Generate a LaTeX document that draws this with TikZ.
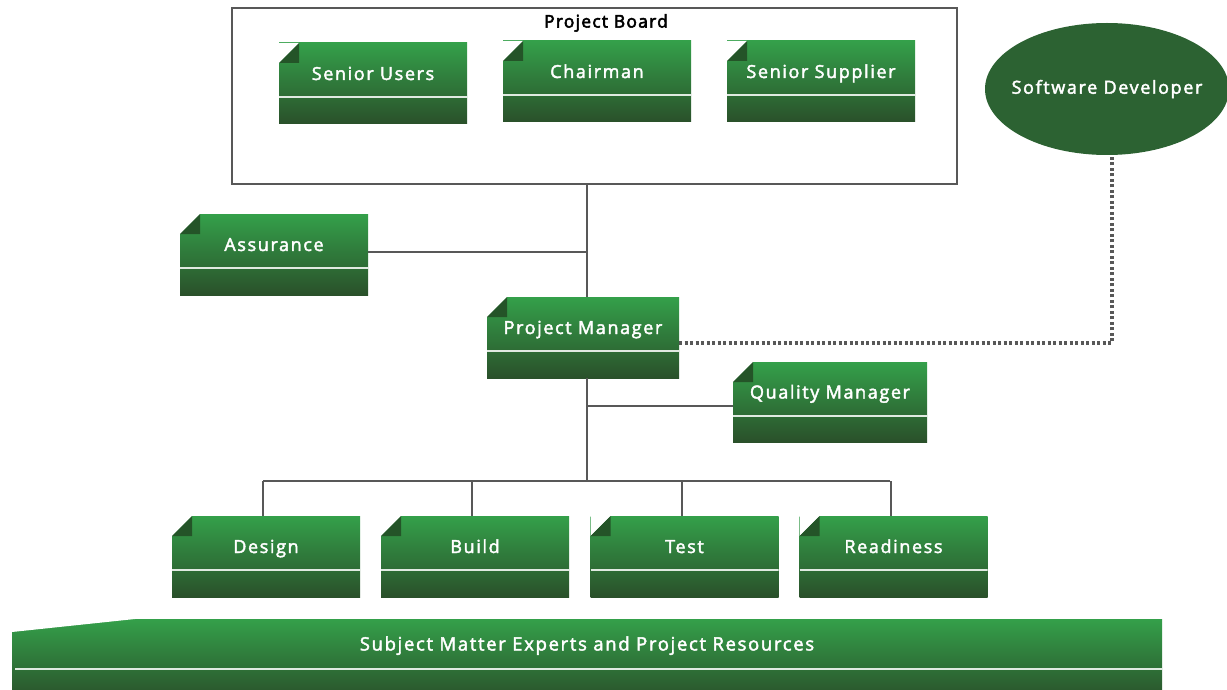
\documentclass[tikz,border=0pt]{standalone}
\usepackage{fontspec}
\setmainfont{Open Sans}
\newfontfamily\boxfont{Open Sans}[LetterSpace=9, FakeBold=2.4]
\newfontfamily\titlefont{Open Sans}[LetterSpace=7, FakeBold=3.2]
\usetikzlibrary{shapes.geometric}

\definecolor{boxtop}{RGB}{52,160,74}
\definecolor{boxmid}{RGB}{46,114,52}
\definecolor{boxbot}{RGB}{42,80,42}
\definecolor{boxfold}{RGB}{36,84,40}
\definecolor{devgreen}{RGB}{44,98,50}
\definecolor{linegray}{RGB}{88,88,88}

\tikzset{
  rolebox/.style={rectangle, inner sep=0pt, minimum width=188pt, minimum height=81pt,
    text=white, font=\boxfont\fontsize{18pt}{21pt}\selectfont, text height=13pt, text depth=20pt,
    path picture={
      \shade[top color=boxtop, middle color=boxmid, bottom color=boxbot]
        (path picture bounding box.south west) rectangle (path picture bounding box.north east);
      \fill[white] (path picture bounding box.north west) -- ++(20pt,0) -- ++(-20pt,-20pt) -- cycle;
      \fill[boxfold] (path picture bounding box.north west) ++(0,-20pt) -- ++(20pt,20pt) -- ++(0,-20pt) -- cycle;
      \draw[white!85!boxmid, line width=1.3pt]
        ([yshift=-54pt]path picture bounding box.north west) -- ([yshift=-54pt]path picture bounding box.north east);
    }},
  basebar/.style={rectangle, inner sep=0pt, minimum width=1150pt, minimum height=81pt,
    text=white, font=\boxfont\fontsize{18.5pt}{21pt}\selectfont, text height=13pt, text depth=31pt,
    path picture={
      \shade[top color=boxtop, middle color=boxmid, bottom color=boxbot]
        (path picture bounding box.south west) rectangle (path picture bounding box.north east);
      \fill[white] (path picture bounding box.north west) -- ++(123pt,0) -- ++(-123pt,-13pt) -- cycle;
      \draw[white!85!boxmid, line width=1.3pt]
        ([yshift=-50pt,xshift=3pt]path picture bounding box.north west) -- ([yshift=-50pt]path picture bounding box.north east);
    }},
  link/.style={draw=linegray, line width=2pt},
  dotlink/.style={draw=linegray, line width=3.5pt, dash pattern=on 3pt off 2.5pt},
}

\begin{document}
\begin{tikzpicture}[x=1pt, y=-1pt]
    \useasboundingbox (0,0) rectangle (1227,690);

    % the board frame and its members
    \node[draw=linegray, line width=2pt, minimum width=725pt, minimum height=176pt] (board) at (594.5,96) {};
    \node[font=\titlefont\fontsize{17.5pt}{20pt}\selectfont] (boardtitle) at (606,23) {Project Board};

    \node[rolebox] (users) at (373,83.5) {Senior Users};
    \node[rolebox] (chair) at (597,81.5) {Chairman};
    \node[rolebox] (supplier) at (821,81.5) {Senior Supplier};

    % outside party
    \node[ellipse, fill=devgreen, minimum width=244pt, minimum height=132pt, inner sep=0pt, inner xsep=-30pt,
          text=white, font=\boxfont\fontsize{18pt}{21pt}\selectfont] (dev) at (1107,89) {Software Developer};

    % management level
    \node[rolebox] (assur) at (274,254.5) {Assurance};
    \node[rolebox, minimum width=192pt] (pm) at (583,337.5) {Project Manager};
    \node[rolebox, minimum width=194pt, minimum height=80pt] (qm) at (830,402) {Quality Manager};

    % work teams
    \node[rolebox] (design) at (266,556.5) {Design};
    \node[rolebox] (build) at (475,556.5) {Build};
    \node[rolebox] (test) at (684.5,556.5) {Test};
    \node[rolebox] (ready) at (893.5,556.5) {Readiness};

    \node[basebar] (sme) at (587,659.5) {Subject Matter Experts and Project Resources};

    % the spine and the bus the teams hang from
    \coordinate (spine) at (587,0);
    \coordinate (bus) at (0,481);

    \draw[link] (board.south -| spine) -- (pm.north -| spine);
    \draw[link] ([yshift=2.5pt]assur.east) -- ([yshift=2.5pt]assur.east -| spine);
    \draw[link] (pm.south -| spine) -- (bus -| spine);
    \draw[link] ([yshift=-4pt]qm.west) -- ([yshift=-4pt]qm.west -| spine);
    \draw[link] ([xshift=-3pt]design.north |- bus) -- ([xshift=-4pt]ready.north |- bus);
    \foreach \team in {design,build,test,ready}
        \draw[link] ([xshift=-3pt]\team.north |- bus) -- ([xshift=-3pt]\team.north);

    % supplier tie
    \draw[dotlink] ([yshift=-5.5pt]pm.east) -| ([xshift=5pt]dev.south);

\end{tikzpicture}
\end{document}
